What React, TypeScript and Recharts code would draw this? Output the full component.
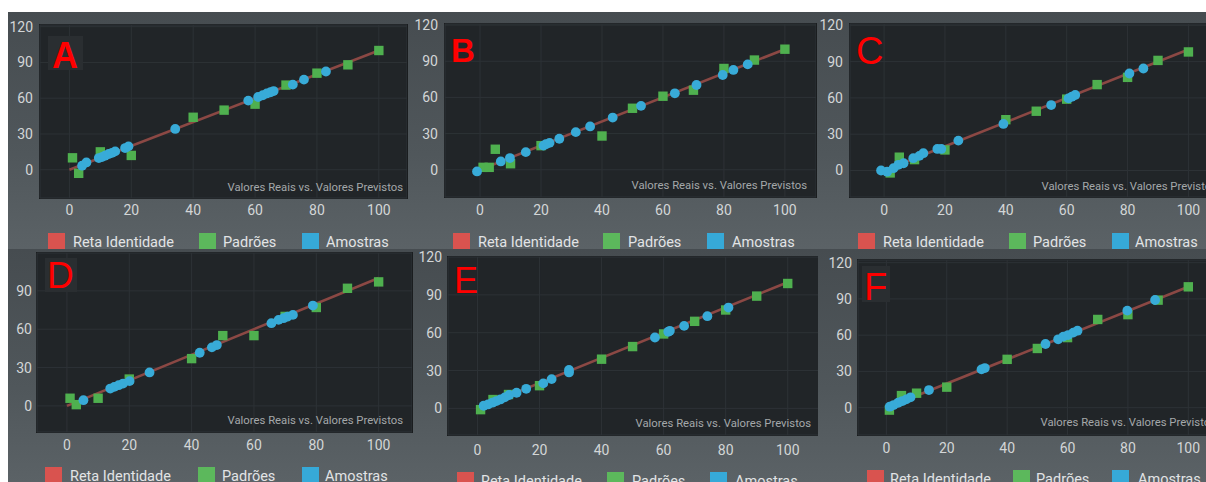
import { ScatterChart, Scatter, XAxis, YAxis, CartesianGrid } from 'recharts'

// eixos e textos comuns
const xTicks = [0, 20, 40, 60, 80, 100]
const yTicks = [0, 30, 60, 90, 120]
const yTicksSemTopo = [0, 30, 60, 90]
const identidade = [[0, 0], [100, 100]]
const legendLabels = ['Reta Identidade', 'Padrões', 'Amostras']
const descricao = 'Valores Reais vs. Valores Previstos'

// A
const padroesA = [[1, 10], [3, -3], [10, 15], [20, 12], [40, 44], [50, 50], [60, 55], [70, 71], [80, 81], [90, 88], [100, 100]]
const amostrasA = [[4.1, 3.4], [5.5, 6.1], [9.5, 9.8], [10.5, 10.6], [11.5, 11.8], [12.7, 13.2], [13.8, 14.2], [14.8, 15.4], [18, 18.2], [19.1, 19.6], [34.2, 34.2], [57.8, 58], [61, 61], [62.5, 62.5], [63.8, 64], [65, 65], [66, 66], [72.2, 71.4], [75.8, 75.6], [82.9, 82.4]]

// B
const padroesB = [[1, 2], [3, 2], [5, 17], [10, 5], [20, 20], [40, 28], [50, 51], [60, 61], [70, 66], [80, 84], [90, 91], [100, 100]]
const amostrasB = [[-1, -1.4], [6.8, 6.9], [9.8, 9.7], [15, 14.6], [20.8, 20], [21.6, 21.2], [22.8, 22.3], [26, 25.7], [31.4, 31.2], [36.1, 35.9], [43.5, 43.3], [52.8, 53], [63.9, 63.4], [71, 70.3], [79.6, 78.6], [83.1, 82.8], [87.8, 87.4]]

// C
const padroesC = [[2, -2], [5, 11], [10, 9], [20, 17], [40, 42], [50, 49], [60, 59], [70, 71], [80, 77], [90, 91], [100, 98]]
const amostrasC = [[-1, 0], [1, -1], [3.1, 1.9], [4.7, 4.7], [6.4, 6], [9.6, 10.2], [11.6, 12.1], [12.9, 14.3], [17.5, 17.8], [18.8, 17.8], [24.4, 24.7], [39.2, 38.5], [54.9, 54.1], [60.6, 59.6], [61.7, 61], [62.8, 62.4], [80.6, 80.2], [85.2, 84.3]]

// D
const padroesD = [[1, 6], [3, 1], [10, 6], [20, 21], [40, 37], [50, 55], [60, 55], [70, 70], [80, 77], [90, 92], [100, 97]]
const amostrasD = [[5.3, 4.5], [13.9, 13.6], [15.2, 14.9], [16.6, 16.2], [18, 17.5], [20.1, 19.4], [26.5, 26.2], [42.6, 41.6], [46.5, 45.8], [48.1, 47.6], [65.6, 64.7], [67.9, 67.3], [69.5, 68.6], [70.8, 69.9], [72.5, 71.2], [78.9, 78.5]]

// E
const padroesE = [[1, -1], [5, 7], [10, 11], [20, 18], [40, 39], [50, 49], [60, 59], [70, 69], [80, 78], [90, 89], [100, 99]]
const amostrasE = [[2, 2.1], [3.4, 3.1], [4.8, 4.5], [6.1, 5.8], [7.4, 7.1], [8.8, 8.7], [10.2, 10.6], [12.6, 12.4], [15.7, 15.5], [21.2, 19.8], [23.9, 23.2], [29.5, 30.5], [29.5, 28.5], [57.2, 56.2], [61.5, 60.7], [62, 61.5], [66.6, 65.4], [74.1, 73.1], [80.9, 79.9]]

// F
const padroesF = [[1, -2], [5, 10], [10, 12], [20, 17], [40, 40], [50, 49], [60, 58], [70, 73], [80, 77], [90, 89], [100, 100]]
const amostrasF = [[1.1, 0.8], [2.4, 2.2], [3.9, 4.1], [5.3, 5.5], [6.6, 6.9], [8, 8.6], [14.1, 14.6], [31.5, 31.7], [32.6, 32.8], [52.7, 52.7], [56.9, 56.6], [58.6, 58.8], [60.2, 60.1], [61.9, 62.1], [63.3, 63.7], [79.8, 80.3], [89, 89.1]]

const COR_LINHA = '#8b4844'
const COR_PADRAO = '#4fb04f'
const COR_AMOSTRA = '#38abd8'
const LEGEND_CORES = ['#d9534f', '#5cb85c', '#36a9d8']

const toPts = (arr: number[][]) => arr.map(([x, y]) => ({ x, y }))

const Square = (props: any) => {
  const { cx, cy } = props
  if (cx == null || cy == null) return <g />
  return <rect x={cx - 4.7} y={cy - 4.7} width={9.4} height={9.4} fill={COR_PADRAO} />
}

const Dot = (props: any) => {
  const { cx, cy } = props
  if (cx == null || cy == null) return <g />
  return <circle cx={cx} cy={cy} r={4.9} fill={COR_AMOSTRA} />
}

const NoShape = () => <g />

type PanelCfg = {
  letter: string
  bold: boolean
  letterBox?: number[]
  letterX: number
  letterBase: number
  letterSize: number
  box: number[]
  plot: number[]
  xDomain: number[]
  yDomain: number[]
  yTicks: number[]
  xGap: number
  yGap: number
  padroes: number[][]
  amostras: number[][]
  legendTop: number
  legendSq: number[]
  legendTx: number[]
  descRight: number
  descBase: number
}

const panels: PanelCfg[] = [
  {
    letter: 'A', bold: true, letterBox: [48, 36, 35, 34], letterX: 52, letterBase: 68, letterSize: 36,
    box: [8, 12, 405, 237], plot: [40, 25, 407, 198],
    xDomain: [-9.5, 109.1], yDomain: [-23.7, 121.4], yTicks, xGap: 7.4, yGap: 7,
    padroes: padroesA, amostras: amostrasA,
    legendTop: 233, legendSq: [48, 199, 302], legendTx: [73, 223, 326],
    descRight: 403, descBase: 191,
  },
  {
    letter: 'B', bold: true, letterX: 451, letterBase: 62, letterSize: 33,
    box: [413, 12, 405, 237], plot: [445, 24, 816, 197],
    xDomain: [-11.5, 110.2], yDomain: [-22.6, 120.9], yTicks, xGap: 7.7, yGap: 7,
    padroes: padroesB, amostras: amostrasB,
    legendTop: 233, legendSq: [453, 603, 707], legendTx: [478, 628, 732],
    descRight: 807, descBase: 189,
  },
  {
    letter: 'C', bold: false, letterX: 856, letterBase: 64, letterSize: 38,
    box: [818, 12, 388, 237], plot: [850, 24, 1221, 197],
    xDomain: [-11.2, 110.7], yDomain: [-21.9, 121.1], yTicks, xGap: 8.4, yGap: 7,
    padroes: padroesC, amostras: amostrasC,
    legendTop: 233, legendSq: [858, 1009, 1112], legendTx: [883, 1033, 1135],
    descRight: 1217, descBase: 190,
  },
  {
    letter: 'D', bold: false, letterBox: [45, 258, 32, 34], letterX: 47, letterBase: 288, letterSize: 37,
    box: [8, 249, 405, 233], plot: [37, 253, 412, 432],
    xDomain: [-9.6, 110.7], yDomain: [-20.4, 119.6], yTicks: yTicksSemTopo, xGap: 8.3, yGap: 5,
    padroes: padroesD, amostras: amostrasD,
    legendTop: 467, legendSq: [45, 198, 302], legendTx: [70, 222, 325],
    descRight: 403, descBase: 424,
  },
  {
    letter: 'E', bold: false, letterX: 454, letterBase: 293, letterSize: 36,
    box: [413, 249, 405, 233], plot: [448, 257, 820, 435],
    xDomain: [-9.5, 110.4], yDomain: [-21.1, 120], yTicks, xGap: 10, yGap: 6,
    padroes: padroesE, amostras: amostrasE,
    legendTop: 472, legendSq: [457, 607, 710], legendTx: [481, 632, 735],
    descRight: 811, descBase: 427,
  },
  {
    letter: 'F', bold: false, letterBox: [862, 266, 28, 36], letterX: 864, letterBase: 300, letterSize: 38,
    box: [818, 249, 388, 233], plot: [858, 260, 1220, 435],
    xDomain: [-9.4, 110.5], yDomain: [-22.6, 122.2], yTicks, xGap: 8.3, yGap: 6,
    padroes: padroesF, amostras: amostrasF,
    legendTop: 470, legendSq: [867, 1013, 1112], legendTx: [890, 1036, 1138],
    descRight: 1216, descBase: 426,
  },
]

const Y_W = 40
const X_H = 30
const TOP_PAD = 12
const tickStyle = { fill: '#d3d6d7', fontSize: 14, fontFamily: 'Roboto' }

function Panel({ p }: { p: PanelCfg }) {
  const [bx, by, bw, bh] = p.box
  const [x1, y1, x2, y2] = p.plot
  const pw = x2 - x1
  const ph = y2 - y1
  return (
    <div
      style={{
        position: 'absolute', left: bx, top: by, width: bw, height: bh, overflow: 'hidden',
        background: 'linear-gradient(180deg, #464c50 0%, #50575b 60%, #5b6266 100%)',
      }}
    >
      <div
        style={{
          position: 'absolute', left: x1 - bx, top: y1 - by, width: pw, height: ph,
          background: '#212528', boxShadow: '0 0 0 1px #1a1d1f',
        }}
      />
      <div style={{ position: 'absolute', left: x1 - bx - Y_W, top: y1 - by - TOP_PAD }}>
        <ScatterChart
          width={pw + Y_W} height={ph + X_H + TOP_PAD}
          margin={{ top: TOP_PAD, right: 0, bottom: 0, left: 0 }}
        >
          <CartesianGrid stroke="#2d3236" strokeWidth={1} />
          <XAxis
            type="number" dataKey="x" domain={p.xDomain} ticks={xTicks} interval={0} allowDataOverflow
            axisLine={false} tickLine={false} tickSize={0} tickMargin={p.xGap} height={X_H} tick={tickStyle}
          />
          <YAxis
            type="number" dataKey="y" domain={p.yDomain} ticks={p.yTicks} interval={0} allowDataOverflow
            axisLine={false} tickLine={false} tickSize={0} tickMargin={p.yGap} width={Y_W} tick={tickStyle}
          />
          <Scatter
            data={toPts(identidade)} line={{ stroke: COR_LINHA, strokeWidth: 2.6 }} shape={NoShape}
            isAnimationActive={false}
          />
          <Scatter data={toPts(p.padroes)} shape={Square} isAnimationActive={false} />
          <Scatter data={toPts(p.amostras)} shape={Dot} isAnimationActive={false} />
        </ScatterChart>
      </div>
      <svg
        width={bw} height={bh}
        style={{ position: 'absolute', left: 0, top: 0, pointerEvents: 'none' }}
      >
        <g transform={`translate(${-bx},${-by})`}>
          {p.letterBox && (
            <rect x={p.letterBox[0]} y={p.letterBox[1]} width={p.letterBox[2]} height={p.letterBox[3]} fill="#2a2e31" />
          )}
          <text
            x={p.letterX} y={p.letterBase} fill="#ff0000" fontSize={p.letterSize}
            fontWeight={p.bold ? 700 : 400} fontFamily="'Liberation Sans', Arial, sans-serif"
          >
            {p.letter}
          </text>
          <text
            x={p.descRight} y={p.descBase} textAnchor="end" fill="#a4a8aa" fontSize={11.3} fontFamily="Roboto"
          >
            {descricao}
          </text>
          {legendLabels.map((lab, i) => (
            <g key={lab}>
              <rect x={p.legendSq[i]} y={p.legendTop} width={17} height={17} fill={LEGEND_CORES[i]} />
              <text x={p.legendTx[i]} y={p.legendTop + 13.5} fill="#e2e4e5" fontSize={14.5} fontFamily="Roboto">
                {lab}
              </text>
            </g>
          ))}
        </g>
      </svg>
    </div>
  )
}

export default function App() {
  return (
    <div style={{ position: 'relative', width: 1206, height: 482, overflow: 'hidden', background: '#ffffff' }}>
      <style>{'body{margin:0}'}</style>
      {panels.map((p) => (
        <Panel key={p.letter} p={p} />
      ))}
    </div>
  )
}
